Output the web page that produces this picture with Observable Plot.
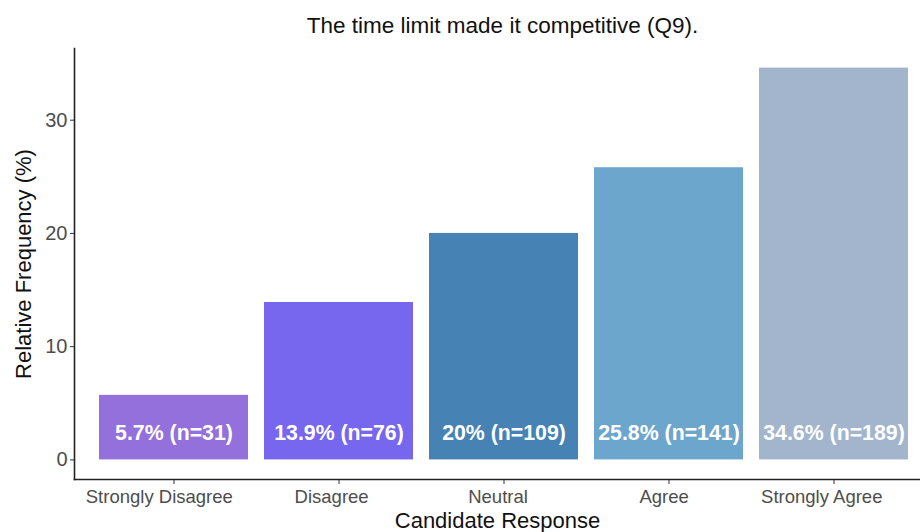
<!DOCTYPE html>
<html>
<head>
<meta charset="utf-8">
<script src="https://cdn.jsdelivr.net/npm/d3@7"></script>
<script src="https://cdn.jsdelivr.net/npm/@observablehq/plot@0.6"></script>
<style>
  html, body { margin: 0; padding: 0; background: #fff; overflow: hidden; }
  #chart svg { overflow: hidden; }
</style>
</head>
<body>
<div id="chart"></div>
<script>
const categories = ["Strongly Disagree", "Disagree", "Neutral", "Agree", "Strongly Agree"];
const percents = [5.7, 13.9, 20, 25.8, 34.6];
const counts = [31, 76, 109, 141, 189];
const colors = ["#9370DB", "#7767EE", "#4682B4", "#6CA6CD", "#A2B5CD"];
const yTicks = [0, 10, 20, 30];
const title = "The time limit made it competitive (Q9).";
const xTitle = "Candidate Response";
const yTitle = "Relative Frequency (%)";

const FONT = "'Liberation Sans', Arial, sans-serif";
const data = categories.map((c, i) => ({
  cat: c, pct: percents[i], n: counts[i], color: colors[i],
  label: `${percents[i]}% (n=${counts[i]})`
}));

const yMax = d3.max(percents);
const yPad = yMax * 0.05;

// x tick labels are placed with hjust ≈ 0.6 (shifted left by 10% of their width)
const tickFont = 18.5;
const ctx = document.createElement("canvas").getContext("2d");
ctx.font = `${tickFont}px ${FONT}`;
const tickLabelMarks = categories.map(c =>
  Plot.text([c], {
    x: d => d, frameAnchor: "bottom", dy: 18, dx: -0.1 * ctx.measureText(c).width,
    fontSize: tickFont, fill: "#4d4d4d", lineAnchor: "middle", textAnchor: "middle"
  })
);

const chart = Plot.plot({
  width: 920,
  height: 532,
  marginTop: 48,
  marginBottom: 53,
  marginLeft: 74,
  marginRight: 0,
  style: { fontFamily: FONT, background: "#fff" },
  x: { domain: categories, range: [74, 932], paddingInner: 0.1, paddingOuter: 0.15 },
  y: { domain: [-yPad, yMax + yPad] },
  color: { type: "identity" },
  marks: [
    Plot.barY(data, { x: "cat", y1: 0, y2: "pct", fill: "color" }),
    Plot.text(data, { x: "cat", y: 2.4, text: "label", fill: "white", fontWeight: "bold", fontSize: 21.3, lineAnchor: "middle" }),
    Plot.axisY({ ticks: yTicks, tickSize: 4, tickPadding: 3, fontSize: 20, color: "#4d4d4d", stroke: "#333", label: null }),
    Plot.axisX({ tickSize: 5, tickFormat: () => "", stroke: "#333", label: null }),
    ...tickLabelMarks,
    Plot.frame({ anchor: "left", stroke: "#222", strokeWidth: 1.6 }),
    Plot.frame({ anchor: "bottom", stroke: "#222", strokeWidth: 1.6 }),
    Plot.text([title], { frameAnchor: "top", dy: -23, dx: 5, fontSize: 22.5, fill: "#111", lineAnchor: "middle", textAnchor: "middle" }),
    Plot.text([xTitle], { frameAnchor: "bottom", dy: 41, fontSize: 22, fill: "#111", lineAnchor: "middle", textAnchor: "middle" }),
    Plot.text([yTitle], { frameAnchor: "left", dx: -51, rotate: -90, fontSize: 22, fill: "#111", lineAnchor: "middle", textAnchor: "middle" })
  ]
});
document.getElementById("chart").appendChild(chart);
</script>
</body>
</html>
